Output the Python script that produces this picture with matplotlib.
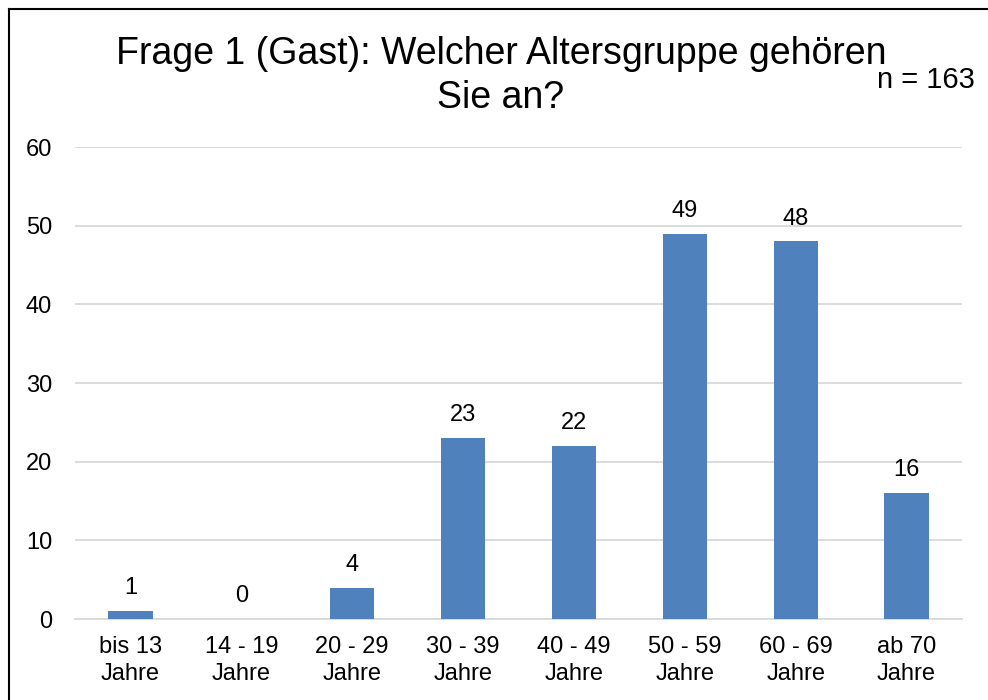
"""
Frage 1 (Gast): age groups bar chart.
"""
import matplotlib

matplotlib.use("Agg")
import matplotlib.pyplot as plt
from matplotlib.lines import Line2D

plt.rcParams["font.family"] = ["Liberation Sans", "DejaVu Sans"]

categories = [
    "bis 13\nJahre",
    "14 - 19\nJahre",
    "20 - 29\nJahre",
    "30 - 39\nJahre",
    "40 - 49\nJahre",
    "50 - 59\nJahre",
    "60 - 69\nJahre",
    "ab 70\nJahre",
]
counts = [1, 0, 4, 23, 22, 49, 48, 16]
y_ticks = [0, 10, 20, 30, 40, 50, 60]
title = "Frage 1 (Gast): Welcher Altersgruppe gehören\nSie an?"
n_label = "n = 163"

bar_color = "#4F81BD"
grid_color = "#D9D9D9"

fig = plt.figure(figsize=(9.88, 7.0), dpi=100)
ax = fig.add_axes([75 / 988, 81 / 700, 887 / 988, 472 / 700])

x = range(len(categories))
bars = ax.bar(x, counts, width=0.4, color=bar_color, zorder=3)
for rect, val in zip(bars, counts):
    ax.annotate(
        str(val),
        (rect.get_x() + rect.get_width() / 2, rect.get_height()),
        xytext=(0, 8.5),
        textcoords="offset points",
        ha="center",
        va="bottom",
        fontsize=17,
    )

ax.set_xlim(-0.5, len(categories) - 0.5)
ax.set_ylim(0, 60)
ax.set_yticks(y_ticks)
ax.set_xticks(list(x))
ax.set_xticklabels(categories, fontsize=17, linespacing=1.3)
ax.tick_params(axis="y", labelsize=17, length=0, pad=16.5)
ax.tick_params(axis="x", length=0, pad=12.5)
ax.grid(axis="y", color=grid_color, linewidth=1.3, zorder=0)
for side in ["top", "right", "left"]:
    ax.spines[side].set_visible(False)
ax.spines["bottom"].set_color(grid_color)
ax.spines["bottom"].set_linewidth(1.3)

fig.text(501 / 988, 1 - 76 / 700, title, ha="center", va="center", fontsize=27,
         linespacing=1.25)
fig.text(926 / 988, 1 - 80 / 700, n_label, ha="center", va="center", fontsize=21)

# frame line at top and left, as in the source
fig.add_artist(Line2D([8.5 / 988, 8.5 / 988], [0, 1 - 8.5 / 700], color="black",
                      linewidth=1.5, transform=fig.transFigure))
fig.add_artist(Line2D([8.5 / 988, 1], [1 - 8.5 / 700, 1 - 8.5 / 700], color="black",
                      linewidth=1.5, transform=fig.transFigure))

fig.savefig("out.png", dpi=100)
